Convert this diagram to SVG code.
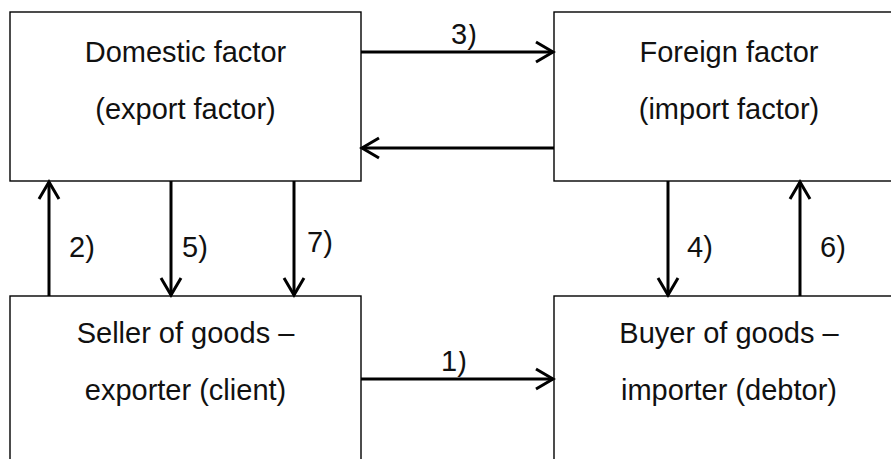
<svg xmlns="http://www.w3.org/2000/svg" width="891" height="459" viewBox="0 0 891 459">
  <style>
    .box { fill: #ffffff; stroke: #000000; stroke-width: 1.4; }
    .txt { font-family: "Liberation Sans", Arial, sans-serif; font-size: 29px; fill: #111111; }
    .mid { text-anchor: middle; }
    .conn { stroke: #000000; stroke-width: 3; fill: none; marker-end: url(#arr); }
  </style>
  <defs>
    <marker id="arr" markerUnits="userSpaceOnUse" viewBox="-22 -13 26 26" refX="0" refY="0" markerWidth="26" markerHeight="26" orient="auto">
      <path d="M-17,-10 L0,0 L-17,10" fill="none" stroke="#000000" stroke-width="3" stroke-linejoin="miter"/>
    </marker>
    <clipPath id="clip3"><rect x="440" y="24" width="50" height="30"/></clipPath>
    <clipPath id="clip1"><rect x="430" y="351" width="50" height="30"/></clipPath>
  </defs>
  <rect width="891" height="459" fill="#ffffff"/>

  <g id="domestic">
    <rect class="box" x="10" y="12" width="351" height="169"/>
    <text class="txt mid" x="185.5" y="62">Domestic factor</text>
    <text class="txt mid" x="185.5" y="119">(export factor)</text>
  </g>
  <g id="foreign">
    <rect class="box" x="554" y="12" width="351" height="169"/>
    <text class="txt mid" x="729" y="62">Foreign factor</text>
    <text class="txt mid" x="729" y="119">(import factor)</text>
  </g>
  <g id="seller">
    <rect class="box" x="10" y="296" width="351" height="200"/>
    <text class="txt mid" x="185.5" y="343">Seller of goods –</text>
    <text class="txt mid" x="185.5" y="400">exporter (client)</text>
  </g>
  <g id="buyer">
    <rect class="box" x="554" y="296" width="351" height="200"/>
    <text class="txt mid" x="729" y="343">Buyer of goods –</text>
    <text class="txt mid" x="729" y="400">importer (debtor)</text>
  </g>

  <g id="connectors">
    <line class="conn" x1="361" y1="52" x2="553" y2="52"/>
    <line class="conn" x1="554" y1="148" x2="362" y2="148"/>
    <line class="conn" x1="361" y1="379" x2="553" y2="379"/>
    <line class="conn" x1="49" y1="296" x2="49" y2="182"/>
    <line class="conn" x1="171" y1="181" x2="171" y2="295"/>
    <line class="conn" x1="294" y1="181" x2="294" y2="295"/>
    <line class="conn" x1="668" y1="181" x2="668" y2="295"/>
    <line class="conn" x1="800" y1="296" x2="800" y2="182"/>
    <g id="labels">
      <text class="txt" x="451" y="44" clip-path="url(#clip3)">3)</text>
      <text class="txt" x="441" y="371" clip-path="url(#clip1)">1)</text>
      <text class="txt" x="69" y="257">2)</text>
      <text class="txt" x="182" y="257">5)</text>
      <text class="txt" x="307" y="252">7)</text>
      <text class="txt" x="687" y="257">4)</text>
      <text class="txt" x="820" y="257">6)</text>
    </g>
  </g>
</svg>
